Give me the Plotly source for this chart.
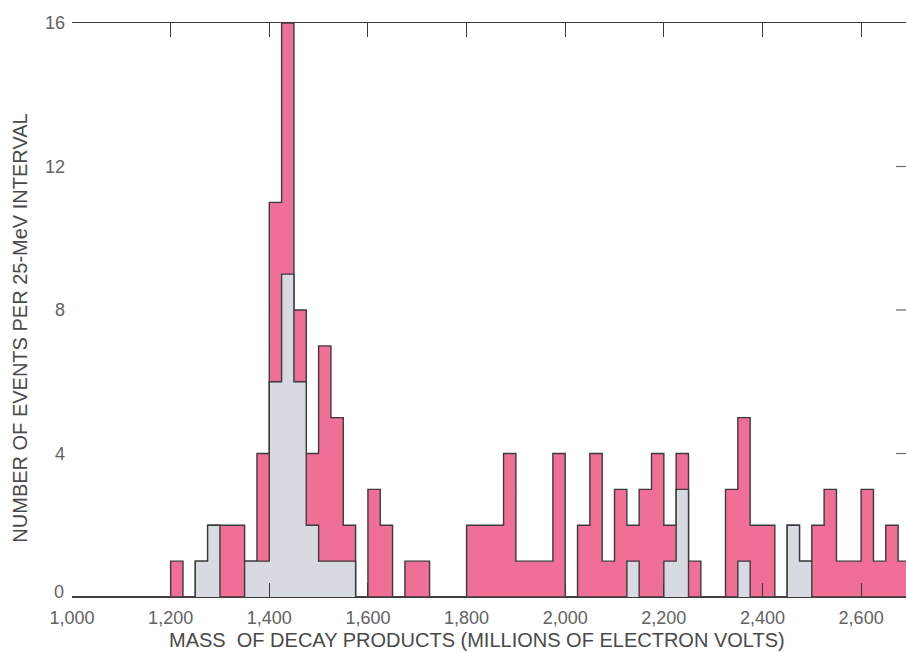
import plotly.graph_objects as go

# 25-MeV bins starting at 1,000 MeV
BIN_START = 1000
BIN_WIDTH = 25

# all events per bin
total_counts = [
    0, 0, 0, 0, 0, 0, 0, 0,          # 1000-1200
    1, 0, 1, 2, 2, 2, 1, 4,          # 1200-1400
    11, 16, 8, 4, 7, 5, 2, 0,        # 1400-1600
    3, 2, 0, 1, 1, 0, 0, 0,          # 1600-1800
    2, 2, 2, 4, 1, 1, 1, 4,          # 1800-2000
    0, 2, 4, 1, 3, 2, 3, 4,          # 2000-2200
    2, 4, 1, 0, 0, 3, 5, 2,          # 2200-2400
    2, 0, 2, 1, 2, 3, 1, 1,          # 2400-2600
    3, 1, 2, 1,                      # 2600-2700
]

# shaded subset of events per bin
subset_counts = [
    0, 0, 0, 0, 0, 0, 0, 0,
    0, 0, 1, 2, 0, 0, 1, 1,
    6, 9, 6, 2, 1, 1, 1, 0,
    0, 0, 0, 0, 0, 0, 0, 0,
    0, 0, 0, 0, 0, 0, 0, 0,
    0, 0, 0, 0, 0, 1, 0, 0,
    1, 3, 0, 0, 0, 0, 1, 0,
    0, 0, 2, 1, 0, 0, 0, 0,
    0, 0, 0, 0,
]

x_tick_values = [1000, 1200, 1400, 1600, 1800, 2000, 2200, 2400, 2600]
x_tick_labels = ["1,000", "1,200", "1,400", "1,600", "1,800", "2,000", "2,200", "2,400", "2,600"]
y_tick_values = [4, 8, 12, 16]
right_tick_values = [4, 8, 12]

PINK = "#ef6f96"
GREY = "#d8dae1"
OUTLINE = "#3d3a3c"
LABEL = "#626262"
TITLE = "#4a4a4a"
FONT = "Liberation Sans, Arial, Helvetica, sans-serif"

edges = [BIN_START + BIN_WIDTH * i for i in range(len(total_counts) + 1)]


def step(counts):
    # left edge of each bin plus a closing point at the last right edge
    return edges, list(counts) + [counts[-1]]


fig = go.Figure()

for counts, colour in ((total_counts, PINK), (subset_counts, GREY)):
    xs, ys = step(counts)
    fig.add_trace(go.Scatter(
        x=xs, y=ys, mode="lines", line_shape="hv",
        fill="tozeroy", fillcolor=colour,
        line=dict(color=OUTLINE, width=1.4),
        hoverinfo="skip", showlegend=False,
    ))

# short inward ticks along the right-hand edge
for v in right_tick_values:
    fig.add_shape(type="line", xref="paper", yref="y",
                  x0=0.988, x1=1.0, y0=v, y1=v,
                  line=dict(color="#6a6a6a", width=1.2))

fig.update_layout(
    width=906, height=652,
    margin=dict(l=72, r=0, t=23, b=55),
    paper_bgcolor="white", plot_bgcolor="white",
    font=dict(family=FONT, color=LABEL),
    xaxis=dict(
        range=[1000, 2691],
        tickvals=x_tick_values, ticktext=x_tick_labels,
        ticks="inside", ticklen=14, tickwidth=1.2, tickcolor=OUTLINE,
        showline=True, linecolor=OUTLINE, linewidth=1.4,
        mirror="ticks", showgrid=False, zeroline=False,
        tickfont=dict(size=18, color=LABEL), ticklabelstandoff=4,
        layer="above traces",
    ),
    yaxis=dict(
        range=[0, 16], tickvals=y_tick_values,
        ticks="", showline=False, showgrid=False, zeroline=False,
        tickfont=dict(size=18, color=LABEL), ticklabelstandoff=6,
    ),
    annotations=[
        dict(text="0", xref="paper", yref="y", x=0, y=0, xanchor="right",
             yanchor="middle", xshift=-6, yshift=5, showarrow=False,
             font=dict(size=18, color=LABEL)),
        dict(text="MASS  OF DECAY PRODUCTS (MILLIONS OF ELECTRON VOLTS)",
             xref="paper", yref="paper", x=0.4856, y=-0.075,
             xanchor="center", yanchor="middle", showarrow=False,
             font=dict(size=20, color=TITLE)),
        dict(text="NUMBER OF EVENTS PER 25-MeV INTERVAL",
             xref="paper", yref="paper", x=-0.062, y=0.468, textangle=-90,
             xanchor="center", yanchor="middle", showarrow=False,
             font=dict(size=20, color=TITLE)),
    ],
)

fig.write_html("out.html")
